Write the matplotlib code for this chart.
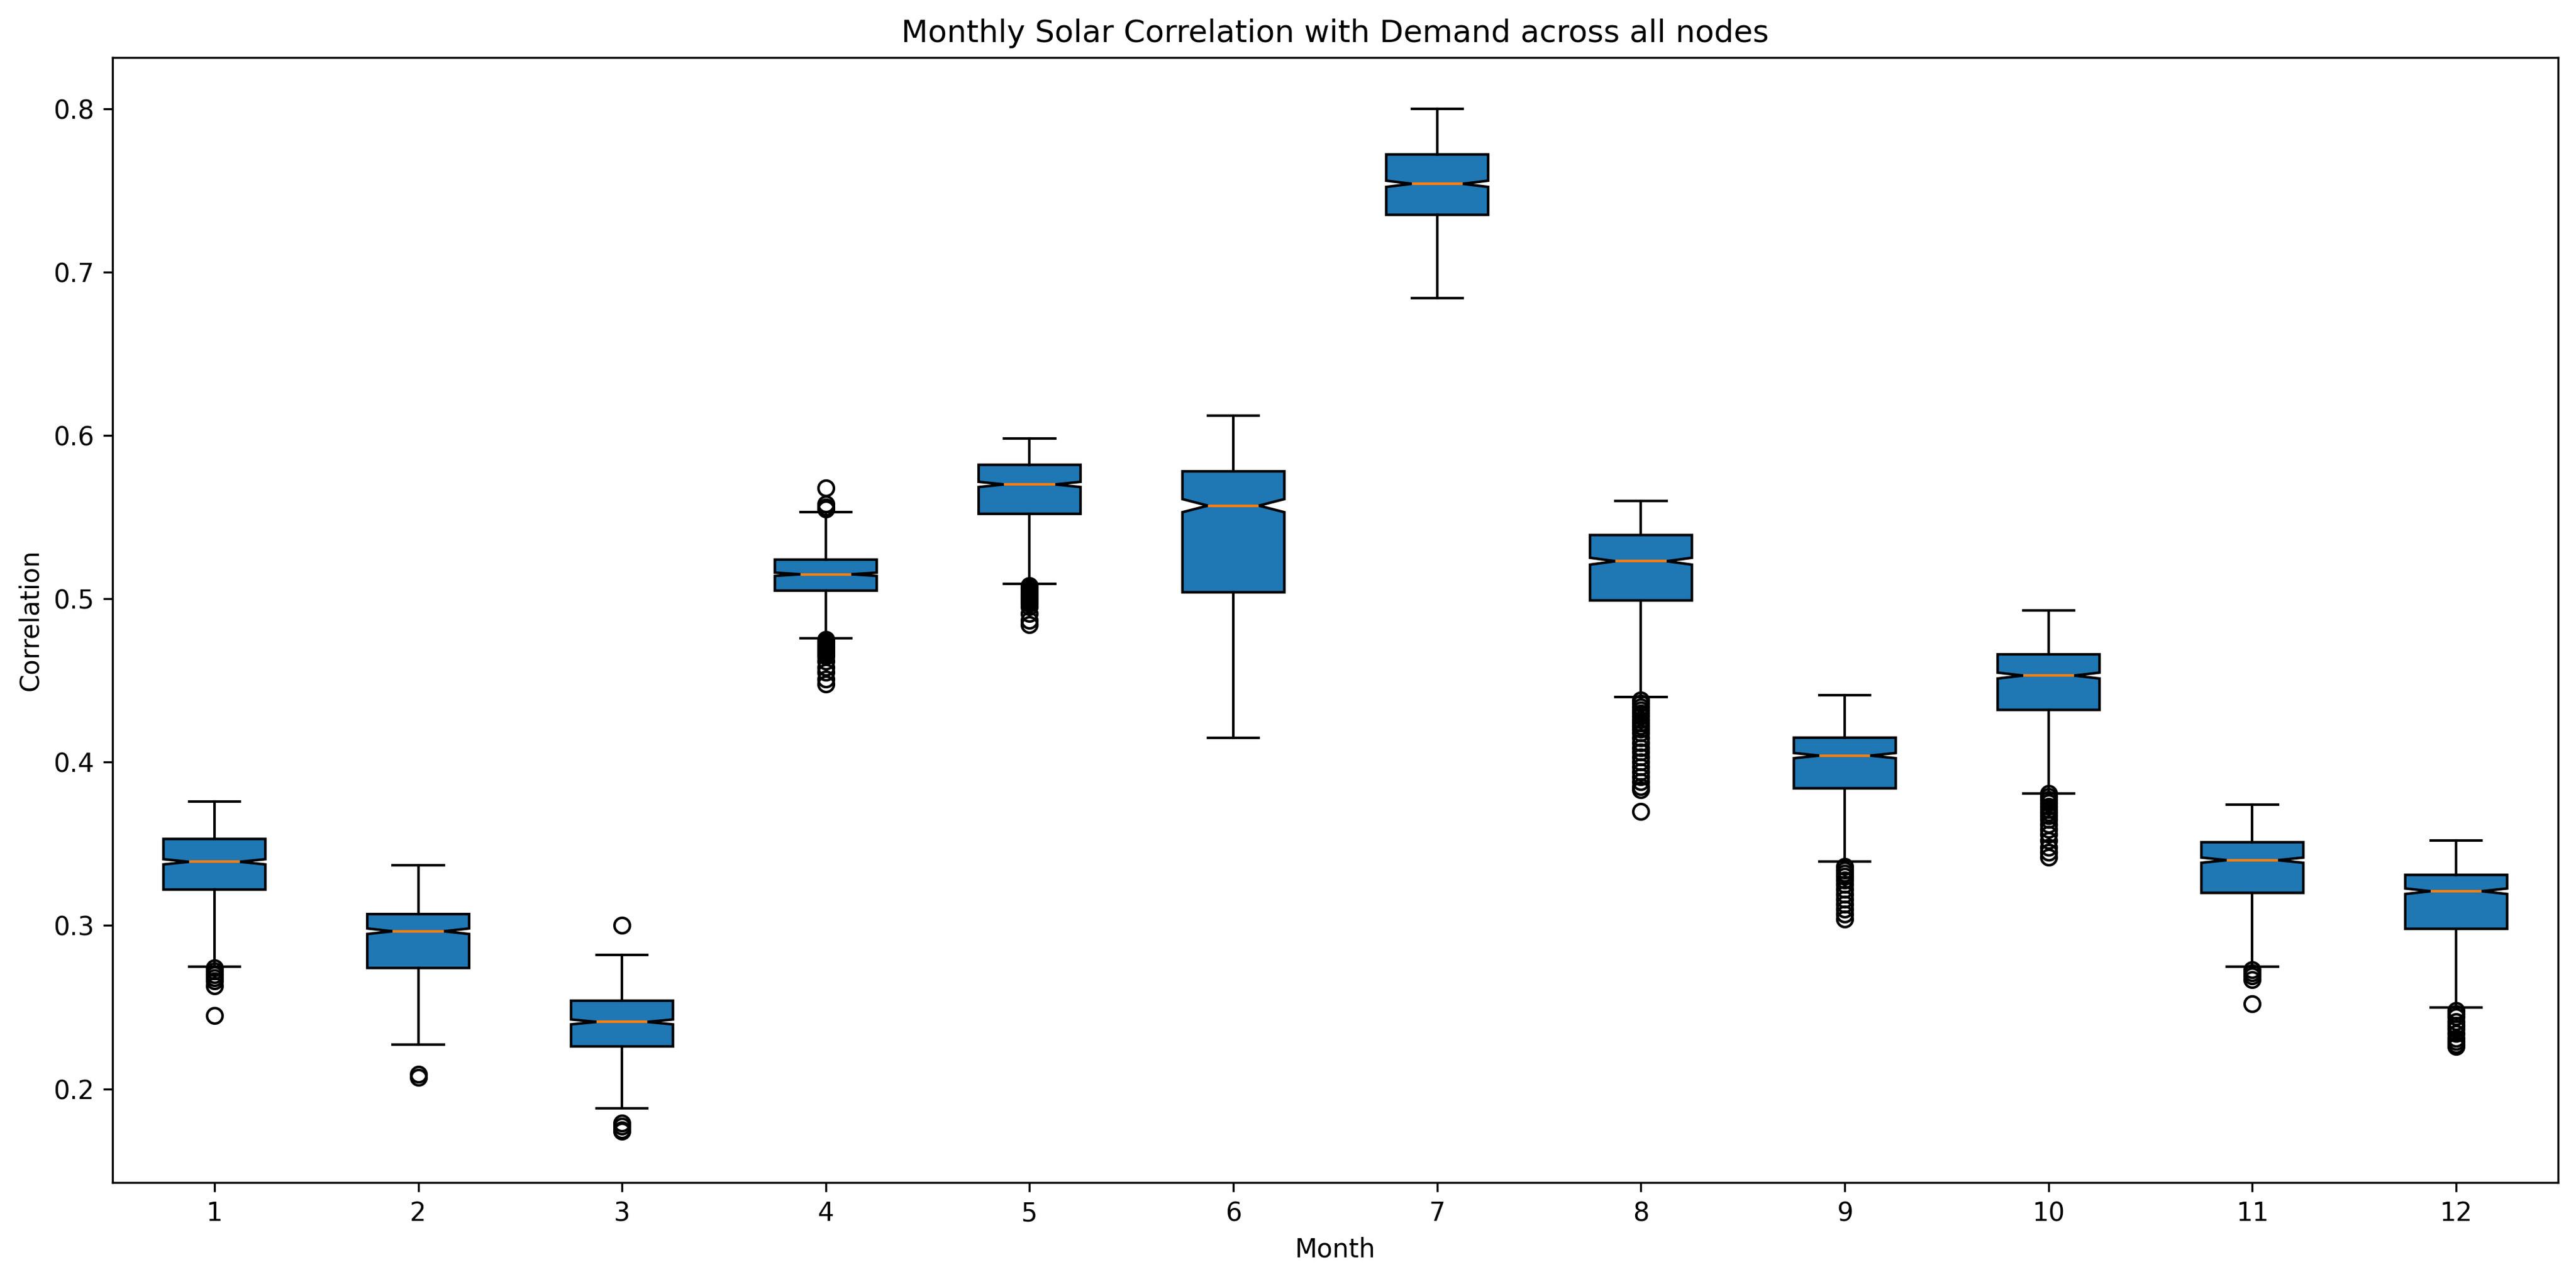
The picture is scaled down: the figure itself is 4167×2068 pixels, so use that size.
# monthly solar/demand correlation boxplot, rebuilt from summary stats
import matplotlib
matplotlib.use("Agg")
import matplotlib.pyplot as plt

W_PX, H_PX = 4167, 2068
DPI = 300

months = [1, 2, 3, 4, 5, 6, 7, 8, 9, 10, 11, 12]

# box summary per month
whis_lo = [0.275, 0.227, 0.188, 0.476, 0.509, 0.415, 0.684, 0.440, 0.339, 0.381, 0.275, 0.250]
q1      = [0.322, 0.274, 0.226, 0.505, 0.552, 0.504, 0.735, 0.499, 0.384, 0.432, 0.320, 0.298]
median  = [0.339, 0.2965, 0.241, 0.515, 0.570, 0.557, 0.754, 0.523, 0.404, 0.453, 0.340, 0.321]
q3      = [0.353, 0.307, 0.254, 0.524, 0.582, 0.578, 0.772, 0.539, 0.415, 0.466, 0.351, 0.331]
whis_hi = [0.376, 0.337, 0.282, 0.553, 0.598, 0.612, 0.800, 0.560, 0.441, 0.493, 0.374, 0.352]

# notch half widths
notch = [0.0016, 0.0017, 0.0015, 0.0010, 0.0016, 0.0040, 0.0019, 0.0021, 0.0016, 0.0018, 0.0016, 0.0017]

fliers = [
    [0.274, 0.272, 0.270, 0.268, 0.266, 0.263, 0.245],
    [0.209, 0.207],
    [0.300, 0.179, 0.177, 0.175, 0.174],
    [0.568, 0.558, 0.556, 0.555,
     0.475, 0.474, 0.473, 0.472, 0.471, 0.470, 0.469, 0.468, 0.467, 0.466,
     0.465, 0.462, 0.458, 0.455, 0.451, 0.448],
    [0.508, 0.507, 0.506, 0.505, 0.504, 0.503, 0.502, 0.501, 0.500, 0.499,
     0.498, 0.497, 0.495, 0.491, 0.487, 0.484],
    [],
    [],
    [0.438, 0.436, 0.434, 0.432, 0.430, 0.428, 0.426, 0.424, 0.422, 0.420,
     0.418, 0.415, 0.412, 0.409, 0.406, 0.403, 0.400, 0.397, 0.394, 0.391,
     0.388, 0.385, 0.383, 0.370],
    [0.336, 0.334, 0.332, 0.330, 0.328, 0.325, 0.322, 0.319, 0.316, 0.313,
     0.310, 0.307, 0.304],
    [0.381, 0.379, 0.377, 0.375, 0.373, 0.371, 0.369, 0.367, 0.365, 0.362,
     0.359, 0.356, 0.352, 0.348, 0.345, 0.342],
    [0.273, 0.271, 0.269, 0.267, 0.252],
    [0.248, 0.246, 0.244, 0.241, 0.239, 0.237, 0.234, 0.231, 0.229, 0.227, 0.226],
]


def build_stats():
    stats = []
    for i, m in enumerate(months):
        stats.append({
            "label": str(m),
            "whislo": whis_lo[i],
            "q1": q1[i],
            "med": median[i],
            "q3": q3[i],
            "whishi": whis_hi[i],
            "cilo": median[i] - notch[i],
            "cihi": median[i] + notch[i],
            "fliers": fliers[i],
        })
    return stats


def plot_boxes(save_path):
    fig, ax = plt.subplots(figsize=(W_PX / DPI, H_PX / DPI), dpi=DPI)
    bp = ax.bxp(build_stats(), positions=months, patch_artist=True,
                shownotches=True, showfliers=True)
    for box in bp["boxes"]:
        box.set_facecolor("C0")
        box.set_edgecolor("black")
    ax.set_title("Monthly Solar Correlation with Demand across all nodes")
    ax.set_xlabel("Month")
    ax.set_ylabel("Correlation")
    # axes box placed where the original tight bbox put it
    fig.subplots_adjust(left=182 / W_PX, right=4138 / W_PX,
                        bottom=1 - 1912 / H_PX, top=1 - 93 / H_PX)
    fig.savefig(save_path, dpi=DPI)
    plt.close(fig)


if __name__ == "__main__":
    plot_boxes("out.png")
